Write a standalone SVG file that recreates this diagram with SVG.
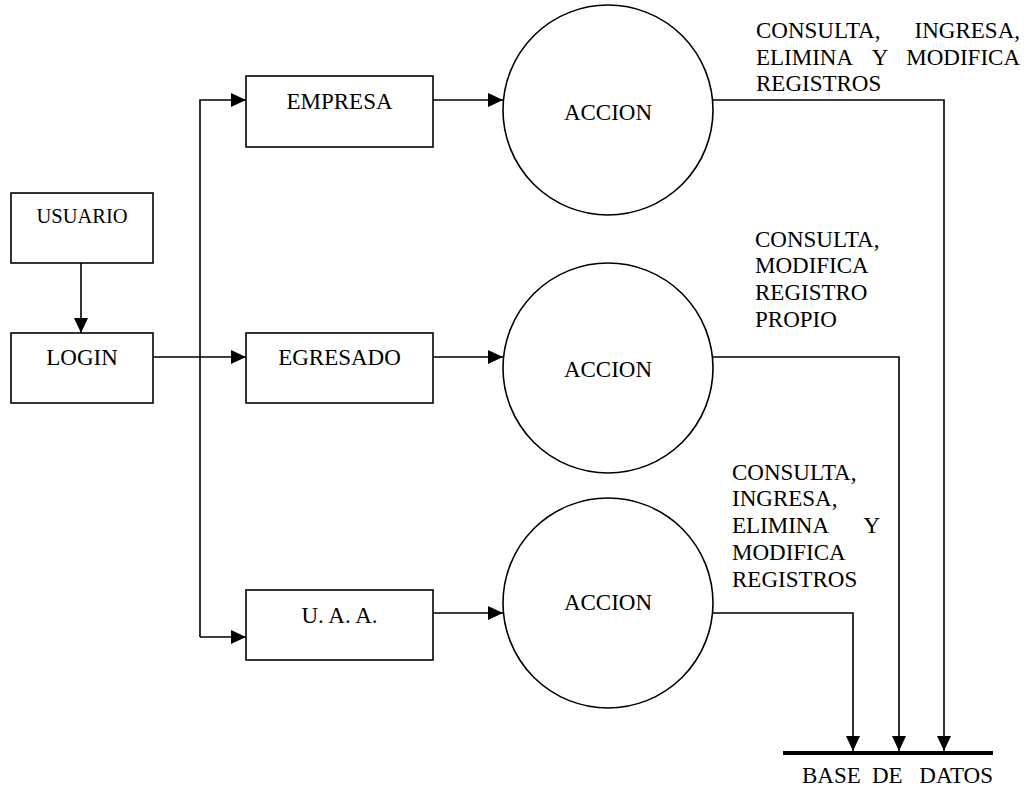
<svg xmlns="http://www.w3.org/2000/svg" width="1027" height="796" viewBox="0 0 1027 796">
  <style>
    .box { fill: #ffffff; stroke: #000000; stroke-width: 1.6; }
    .proc { fill: #ffffff; stroke: #000000; stroke-width: 1.6; }
    .edge { fill: none; stroke: #000000; stroke-width: 1.6; }
    .store { fill: none; stroke: #000000; stroke-width: 4; }
    text { font-family: "Liberation Serif", "Times New Roman", serif; font-size: 23px; fill: #000000; }
    .small { font-size: 20.5px; }
    .c { text-anchor: middle; }
    .e { text-anchor: end; }
  </style>
  <defs>
    <marker id="arrow" markerUnits="userSpaceOnUse" markerWidth="16" markerHeight="16" refX="15" refY="7" orient="auto">
      <path d="M0,0 L15,7 L0,14 Z" fill="#000000"/>
    </marker>
  </defs>

  <rect width="1027" height="796" fill="#ffffff"/>

  <g id="connectors">
    <line class="edge" x1="81" y1="263" x2="81" y2="333" marker-end="url(#arrow)"/>
    <line class="edge" x1="153" y1="357" x2="246" y2="357" marker-end="url(#arrow)"/>
    <polyline class="edge" points="200,637 200,100 246,100" marker-end="url(#arrow)"/>
    <line class="edge" x1="200" y1="637" x2="246" y2="637" marker-end="url(#arrow)"/>
    <line class="edge" x1="433" y1="100" x2="503" y2="100" marker-end="url(#arrow)"/>
    <line class="edge" x1="433" y1="357" x2="503" y2="357" marker-end="url(#arrow)"/>
    <line class="edge" x1="433" y1="613" x2="503" y2="613" marker-end="url(#arrow)"/>
    <polyline class="edge" points="712,100 944,100 944,751" marker-end="url(#arrow)"/>
    <polyline class="edge" points="713,357 899,357 899,751" marker-end="url(#arrow)"/>
    <polyline class="edge" points="713,613 853,613 853,751" marker-end="url(#arrow)"/>
  </g>

  <g id="usuario">
    <rect class="box" x="11" y="193" width="142" height="70"/>
    <text class="small c" x="82" y="223">USUARIO</text>
  </g>
  <g id="login">
    <rect class="box" x="11" y="333" width="142" height="70"/>
    <text class="c" x="82" y="365">LOGIN</text>
  </g>
  <g id="empresa">
    <rect class="box" x="246" y="76" width="187" height="71"/>
    <text class="c" x="339.5" y="109">EMPRESA</text>
  </g>
  <g id="egresado">
    <rect class="box" x="246" y="333" width="187" height="70"/>
    <text class="c" x="339.5" y="365">EGRESADO</text>
  </g>
  <g id="uaa">
    <rect class="box" x="246" y="590" width="187" height="70"/>
    <text class="c" x="339.5" y="623">U. A. A.</text>
  </g>

  <g id="accion1">
    <circle class="proc" cx="608" cy="110" r="105"/>
    <text class="c" x="608" y="120">ACCION</text>
  </g>
  <g id="accion2">
    <circle class="proc" cx="608" cy="368" r="105"/>
    <text class="c" x="608" y="377">ACCION</text>
  </g>
  <g id="accion3">
    <circle class="proc" cx="608" cy="603" r="105"/>
    <text class="c" x="608" y="610">ACCION</text>
  </g>

  <g id="base_datos">
    <line class="store" x1="783" y1="753" x2="993" y2="753"/>
    <text x="802" y="783">BASE</text>
    <text x="872" y="783">DE</text>
    <text class="e" x="993" y="783">DATOS</text>
  </g>

  <g id="labels">
    <g id="label1">
      <text x="756" y="38">CONSULTA,</text>
      <text class="e" x="1020" y="38">INGRESA,</text>
      <text x="756" y="65">ELIMINA</text>
      <text class="c" x="880" y="65">Y</text>
      <text class="e" x="1020" y="65">MODIFICA</text>
      <text x="756" y="91">REGISTROS</text>
    </g>
    <g id="label2">
      <text x="755" y="247">CONSULTA,</text>
      <text x="755" y="273">MODIFICA</text>
      <text x="755" y="300">REGISTRO</text>
      <text x="755" y="327">PROPIO</text>
    </g>
    <g id="label3">
      <text x="732" y="480">CONSULTA,</text>
      <text x="732" y="506">INGRESA,</text>
      <text x="732" y="533">ELIMINA</text>
      <text class="e" x="880" y="533">Y</text>
      <text x="732" y="560">MODIFICA</text>
      <text x="732" y="587">REGISTROS</text>
    </g>
  </g>
</svg>
